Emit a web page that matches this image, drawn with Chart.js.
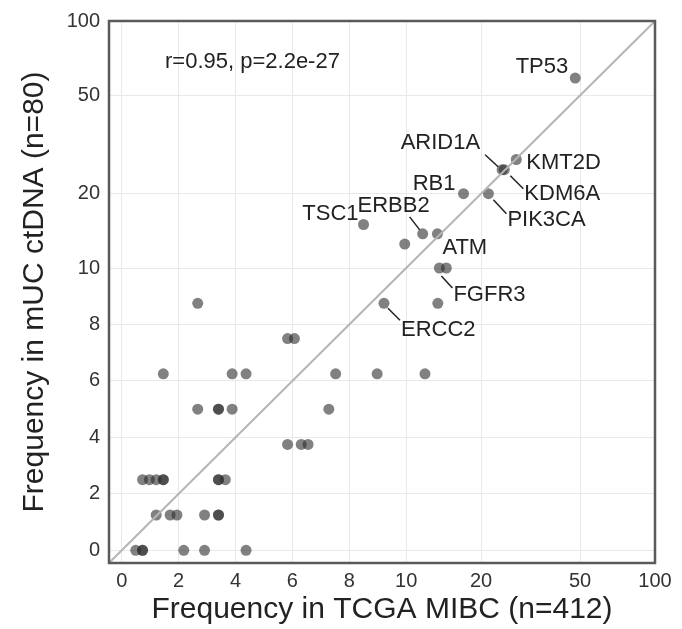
<!DOCTYPE html>
<html>
<head>
<meta charset="utf-8">
<script src="https://cdn.jsdelivr.net/npm/chart.js@4.4.1/dist/chart.umd.min.js"></script>
<style>
  html, body { margin: 0; padding: 0; background: #fff; }
</style>
</head>
<body>
<canvas id="chart" width="682" height="629"></canvas>
<script>
// axis ticks (shown values), axis is linear 0-10 then log 10-100
const tickVals = [0, 2, 4, 6, 8, 10, 20, 50, 100];
const axisMin = -0.45;

// labelled genes: % in TCGA (x) vs % in ctDNA (y)
const geneNames = ["TP53", "KMT2D", "ARID1A", "KDM6A", "RB1", "PIK3CA", "ERBB2", "TSC1", "ATM", "FGFR3", "ERCC2"];
const geneX = [47.8, 27.7, 24.3, 24.8, 17.0, 21.4, 11.65, 8.5, 13.35, 13.6, 9.22];
const geneY = [58.75, 27.5, 25, 25, 20, 20, 13.75, 15, 13.75, 10, 8.75];

// other genes
const otherX = [0.49, 0.73, 0.73, 2.18, 2.91, 4.37,
  1.21, 1.70, 1.94, 2.91, 3.40, 3.40,
  0.73, 0.97, 1.21, 1.46, 1.46, 3.40, 3.40, 3.64,
  5.83, 6.31, 6.55,
  2.67, 3.40, 3.40, 3.88, 7.28,
  1.46, 3.88, 4.37, 7.52, 8.98, 11.9,
  5.83, 6.07,
  2.67, 13.4,
  14.5,
  9.95];
const otherY = [0, 0, 0, 0, 0, 0,
  1.25, 1.25, 1.25, 1.25, 1.25, 1.25,
  2.5, 2.5, 2.5, 2.5, 2.5, 2.5, 2.5, 2.5,
  3.75, 3.75, 3.75,
  5, 5, 5, 5, 5,
  6.25, 6.25, 6.25, 6.25, 6.25, 6.25,
  7.5, 7.5,
  8.75, 8.75,
  10,
  12.5];

const statText = "r=0.95, p=2.2e-27";

// linear up to 10, log above
const K = 8.75;
function tr(v) {
  return v <= 10 ? v : 10 + K * Math.log10(v / 10);
}

const FONT = '"Liberation Sans", Arial, sans-serif';

const points = otherX.map((v, i) => ({ x: tr(v), y: tr(otherY[i]) }))
  .concat(geneX.map((v, i) => ({ x: tr(v), y: tr(geneY[i]) })));

// label placement around each labelled point (px)
const labelLayout = {
  TP53:   { dx: -7, dy: -11, align: "right" },
  KMT2D:  { dx: 10, dy: 3, align: "left" },
  ARID1A: { dx: -22, dy: -27, align: "right", line: [-17, -15, -4, -3] },
  KDM6A:  { dx: 20, dy: 24, align: "left", line: [6, 6, 19, 19] },
  RB1:    { dx: -8, dy: -10, align: "right" },
  PIK3CA: { dx: 19, dy: 26, align: "left", line: [5, 6, 18, 20] },
  ERBB2:  { dx: 7, dy: -28, align: "right", line: [-13, -17, -3, -4] },
  TSC1:   { dx: -5, dy: -11, align: "right" },
  ATM:    { dx: 5, dy: 14, align: "left" },
  FGFR3:  { dx: 14, dy: 27, align: "left", line: [2, 8, 13, 20] },
  ERCC2:  { dx: 17, dy: 27, align: "left", line: [4, 5, 16, 17] }
};

const overlay = {
  id: "overlay",
  afterDatasetsDraw(chart) {
    const { ctx, chartArea: a, scales: { x, y } } = chart;
    ctx.save();
    ctx.strokeStyle = "#5a5a5a";
    ctx.lineWidth = 2.5;
    ctx.strokeRect(a.left, a.top, a.width, a.height);

    ctx.fillStyle = "#222";
    ctx.font = "22px " + FONT;
    ctx.textBaseline = "middle";
    ctx.textAlign = "left";
    ctx.fillText(statText, a.left + 56, a.top + 41);

    ctx.strokeStyle = "#222";
    ctx.lineWidth = 1.5;
    geneNames.forEach((g, i) => {
      const px = x.getPixelForValue(tr(geneX[i]));
      const py = y.getPixelForValue(tr(geneY[i]));
      const L = labelLayout[g];
      ctx.textAlign = L.align;
      ctx.fillText(g, px + L.dx, py + L.dy);
      if (L.line) {
        ctx.beginPath();
        ctx.moveTo(px + L.line[0], py + L.line[1]);
        ctx.lineTo(px + L.line[2], py + L.line[3]);
        ctx.stroke();
      }
    });
    ctx.restore();
  }
};

function axis(title, isY) {
  return {
    type: "linear",
    min: axisMin,
    max: tr(100),
    afterBuildTicks: s => { s.ticks = tickVals.map(v => ({ value: tr(v) })); },
    afterFit: s => {
      if (isY) s.width = 109; else s.height = 66;
    },
    grid: { color: "#e9e9e9", lineWidth: 1, drawTicks: false },
    border: { display: false },
    ticks: {
      autoSkip: false,
      maxRotation: 0,
      padding: isY ? 9 : 6,
      color: "#333",
      font: { family: FONT, size: 20 },
      callback: (val, i) => tickVals[i]
    },
    title: {
      display: true,
      text: title,
      color: "#222",
      font: { family: FONT, size: 30 },
      padding: isY ? { top: 17 } : { bottom: 1 }
    }
  };
}

new Chart(document.getElementById("chart"), {
  data: {
    datasets: [
      {
        type: "line",
        data: [{ x: tr(axisMin), y: tr(axisMin) }, { x: tr(100), y: tr(100) }],
        borderColor: "#b5b5b5",
        borderWidth: 2,
        pointRadius: 0
      },
      {
        type: "scatter",
        data: points,
        pointRadius: 5.5,
        pointBorderWidth: 0,
        backgroundColor: "rgba(45,45,45,0.6)"
      }
    ]
  },
  options: {
    responsive: false,
    animation: false,
    layout: { padding: { top: 17, right: 27, left: 0, bottom: 0 } },
    plugins: { legend: { display: false }, tooltip: { enabled: false } },
    scales: {
      x: axis("Frequency in TCGA MIBC (n=412)", false),
      y: axis("Frequency in mUC ctDNA (n=80)", true)
    }
  },
  plugins: [overlay]
});
</script>
</body>
</html>
